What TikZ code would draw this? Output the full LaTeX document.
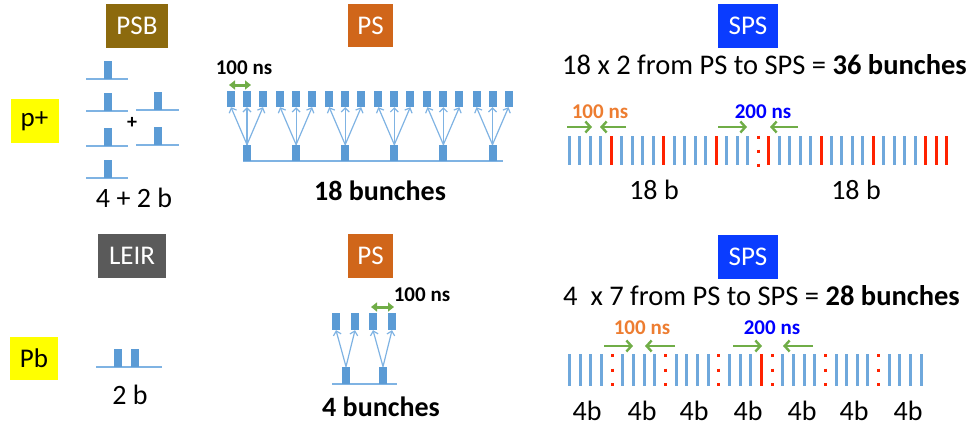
\documentclass[tikz,border=0pt]{standalone}
\usepackage{fontspec}
\setmainfont{Carlito}
\usetikzlibrary{arrows.meta}
\definecolor{psbcol}{HTML}{8C6A0E}
\definecolor{pscol}{HTML}{D0661A}
\definecolor{spscol}{HTML}{0A3CFF}
\definecolor{leircol}{HTML}{5A5A5A}
\definecolor{ylw}{HTML}{FFFF00}
\definecolor{bunchcol}{HTML}{5B9BD5}
\definecolor{blinecol}{HTML}{7FB3E3}
\definecolor{barcol}{HTML}{6FA8DC}
\definecolor{redcol}{HTML}{FF2200}
\definecolor{grncol}{HTML}{70AD47}
\definecolor{orncol}{HTML}{ED7D31}
\definecolor{blucol}{HTML}{0000FF}
\tikzset{
  machine/.style={inner sep=0pt, text=white, font=\fontsize{27}{30}\selectfont},
  tagbox/.style={fill=ylw, inner sep=0pt, text=black, minimum width=48pt, minimum height=44pt, font=\fontsize{27}{30}\selectfont},
  txt/.style={inner sep=0pt, font=\fontsize{28}{30}\selectfont},
  ttxt/.style={inner sep=0pt, font=\fontsize{28.5}{30}\selectfont},
  btxt/.style={inner sep=0pt, font=\fontsize{28}{30}\selectfont\bfseries},
  nslab/.style={inner sep=0pt, font=\fontsize{21}{24}\selectfont\bfseries},
  bunch/.style={fill=bunchcol, draw=none, minimum width=8pt, minimum height=16pt, inner sep=0pt},
  baseln/.style={draw=blinecol, line width=1.3pt},
  arr/.style={draw=blinecol, line width=1.2pt, -{Straight Barb[length=4pt,width=8pt]}},
  garr/.style={draw=grncol, line width=2.4pt, -{Straight Barb[length=5pt,width=11pt]}},
  gdbl/.style={draw=grncol, line width=3pt, {Triangle[length=6pt,width=9pt]}-{Triangle[length=6pt,width=9pt]}},
  barb/.style={draw=barcol, line width=3pt},
  barr/.style={draw=redcol, line width=3pt},
}
\begin{document}
\begin{tikzpicture}[x=1pt,y=-1pt]
\useasboundingbox (0,0) rectangle (973,426);
% ---------- machine boxes ----------
\node[machine, fill=psbcol, minimum width=62pt, minimum height=44pt] (psb) at (137,26) {PSB};
\node[machine, fill=pscol, minimum width=45pt, minimum height=43pt] (ps1) at (370.5,25.5) {PS};
\node[machine, fill=spscol, minimum width=60pt, minimum height=44pt] (sps1) at (748,26) {SPS};
\node[machine, fill=leircol, minimum width=68pt, minimum height=44pt] (leir) at (132,256) {LEIR};
\node[machine, fill=pscol, minimum width=45pt, minimum height=44pt] (ps2) at (370.5,256) {PS};
\node[machine, fill=spscol, minimum width=60pt, minimum height=44pt] (sps2) at (748,257) {SPS};
\node[tagbox] (pplus) at (34.5,121) {p+};
\node[tagbox, minimum height=43pt] (pb) at (34,358.5) {Pb};
% ---------- PSB ----------
\foreach \y [count=\j] in {79,111,146,178}{
  \draw[baseln] (86,\y) -- (128,\y);
  \node[bunch, minimum height=18pt, anchor=south] (psba\j) at (108,\y) {};
}
\foreach \y [count=\j] in {110,145}{
  \draw[baseln] (136,\y) -- (179,\y);
  \node[bunch, minimum height=18pt, anchor=south] (psbb\j) at (158,\y) {};
}
\node[inner sep=0pt, font=\fontsize{20}{22}\selectfont\bfseries] (plus) at (132,123) {+};
\node[txt] (psblab) at (134,198) {4 + 2 b};
% ---------- PS top ----------
\draw[baseln] (243,161) -- (503,161);
\foreach \g in {0,...,5}{
  \pgfmathsetmacro\xg{247+49.1*\g}
  \node[bunch, anchor=south] (pb\g) at (\xg,161) {};
  \foreach \k [count=\j] in {-1,0,1}{
    \node[bunch] (pt\g\j) at ({\xg+16*\k},99) {};
    \draw[arr] (pb\g.north) -- (pt\g\j.south);
  }
}
\draw[gdbl] (229,85) -- (251,85);
\node[nslab] (ns1) at (244,68) {100 ns};
\node[btxt] (b18) at (380,191) {18 bunches};
% ---------- SPS top ----------
\node[ttxt, anchor=west] (title1) at (562,65) {18 x 2 from PS to SPS = {\bfseries 36 bunches}};
\node[nslab, text=orncol] (ns2) at (600,112) {100 ns};
\node[nslab, text=blucol] (ns3) at (763,112) {200 ns};
\draw[garr] (567,127) -- (592,127);
\draw[garr] (626,127) -- (600,127);
\draw[garr] (718,127) -- (747,127);
\draw[garr] (798,127) -- (770,127);
\foreach \i in {0,1,2,3,5,6,7,8,10,11,12,13,15,16,17,20,21,22,23,25,26,27,28,30,31,32,33}{
  \draw[barb] ({569.5+10.48*\i},136) -- ({569.5+10.48*\i},165);
}
\foreach \i in {4,9,14,19,24,29,34,35,36}{
  \draw[barr] ({569.5+10.48*\i},136) -- ({569.5+10.48*\i},165);
}
\draw[barr, dash pattern=on 3pt off 11pt] ({569.5+10.48*18},135.5) -- ({569.5+10.48*18},166.5);
\node[txt] (l18a) at (654,190) {18 b};
\node[txt] (l18b) at (856,190) {18 b};
% ---------- LEIR ----------
\draw[baseln] (96,367) -- (162,367);
\node[bunch, minimum height=18pt, anchor=south] (lb1) at (118,367) {};
\node[bunch, minimum height=18pt, anchor=south] (lb2) at (135,367) {};
\node[txt] (leirlab) at (130,395) {2 b};
% ---------- PS bottom ----------
\draw[baseln] (332,384) -- (397,384);
\node[bunch, minimum height=17pt, anchor=south] (qb1) at (346,384) {};
\node[bunch, minimum height=17pt, anchor=south] (qb2) at (383,384) {};
\node[bunch, minimum height=17pt] (qt1) at (336,321.5) {};
\node[bunch, minimum height=17pt] (qt2) at (355,321.5) {};
\node[bunch, minimum height=17pt] (qt3) at (373,321.5) {};
\node[bunch, minimum height=17pt] (qt4) at (392,321.5) {};
\draw[arr] (qb1.north) -- (qt1.south);
\draw[arr] (qb1.north) -- (qt2.south);
\draw[arr] (qb2.north) -- (qt3.south);
\draw[arr] (qb2.north) -- (qt4.south);
\draw[gdbl] (371,307) -- (394,307);
\node[nslab] (ns4) at (422,295) {100 ns};
\node[btxt] (b4) at (381,407) {4 bunches};
% ---------- SPS bottom ----------
\node[ttxt, anchor=west] (title2) at (563,296) {4\ \ x 7 from PS to SPS = {\bfseries 28 bunches}};
\node[nslab, text=orncol] (ns5) at (642,328) {100 ns};
\node[nslab, text=blucol] (ns6) at (772,328) {200 ns};
\draw[garr] (604,346) -- (633,346);
\draw[garr] (675,346) -- (645,346);
\draw[garr] (733,346) -- (762,346);
\draw[garr] (813,346) -- (783,346);
\foreach \i in {0,1,2,3,5,6,7,8,10,11,12,13,15,16,17,20,21,22,23,25,26,27,28,30,31,32,33}{
  \draw[barb] ({569.5+10.66*\i},354) -- ({569.5+10.66*\i},386);
}
\draw[barr] ({569.5+10.66*18},354) -- ({569.5+10.66*18},386);
\foreach \i in {4,9,14,19,24,29}{
  \draw[barr, dash pattern=on 3pt off 11.5pt] ({569.5+10.66*\i},354) -- ({569.5+10.66*\i},386);
}
\foreach \x [count=\j] in {587,642,694,748,802,854,908}{
  \node[txt] (g\j) at (\x,411) {4b};
}
\end{tikzpicture}
\end{document}
